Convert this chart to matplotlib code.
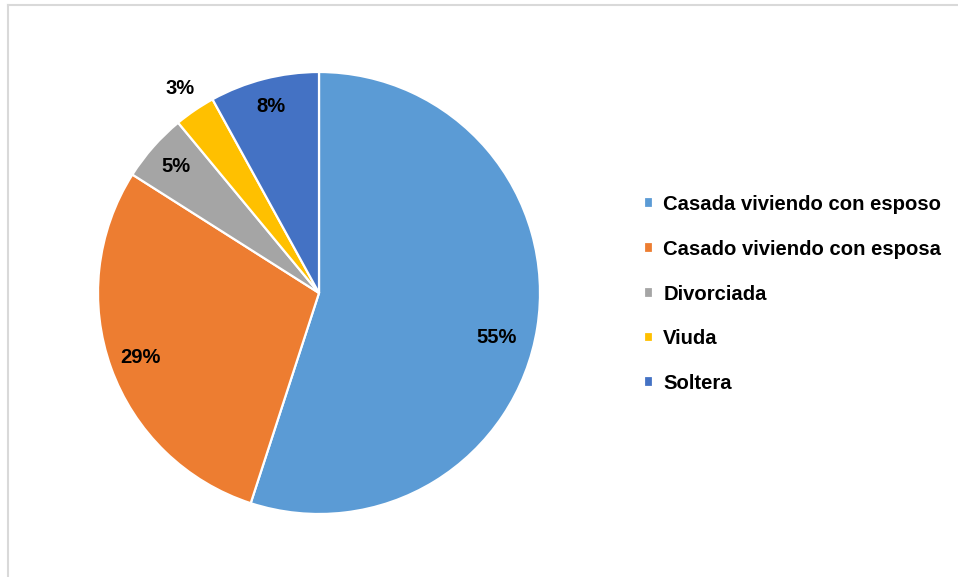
import numpy as np
import matplotlib.pyplot as plt
from matplotlib.lines import Line2D

categorias = ["Casada viviendo con esposo", "Casado viviendo con esposa",
              "Divorciada", "Viuda", "Soltera"]
porcentajes = [55, 29, 5, 3, 8]
colores = ["#5B9BD5", "#ED7D31", "#A5A5A5", "#FFC000", "#4472C4"]

# distancia radial de cada etiqueta y pequeño giro (grados)
dist_etiqueta = [0.83, 0.86, 0.865, 1.12, 0.87]
giro_etiqueta = [-5, 0, 0, 0, 0]

plt.rcParams['font.family'] = ['Liberation Sans', 'DejaVu Sans']
W, H = 958, 577
fig = plt.figure(figsize=(W / 100, H / 100), dpi=100)

# marco gris del área del gráfico
fig.add_artist(Line2D([8 / W, 8 / W], [0, 1 - 5 / H], color="#D9D9D9", lw=1.5))
fig.add_artist(Line2D([8 / W, 1], [1 - 5 / H, 1 - 5 / H], color="#D9D9D9", lw=1.5))

cx, cy, r = 319, 293, 221
ax = fig.add_axes([(cx - r) / W, (H - cy - r) / H, 2 * r / W, 2 * r / H])
wedges, _ = ax.pie(porcentajes, colors=colores, startangle=90, counterclock=False,
                   radius=1, wedgeprops=dict(edgecolor="white", linewidth=1.6))
ax.set_xlim(-1, 1)
ax.set_ylim(-1, 1)
ax.set_aspect("equal")
ax.axis("off")

for w, p, d, g in zip(wedges, porcentajes, dist_etiqueta, giro_etiqueta):
    ang = np.deg2rad((w.theta1 + w.theta2) / 2 + g)
    ax.text(d * np.cos(ang), d * np.sin(ang), f"{p}%", ha="center", va="center",
            fontsize=14.5, fontweight="bold", color="black")

fig.legend(wedges, categorias, loc="upper left", bbox_to_anchor=(644 / W, 1 - 195 / H),
           frameon=False, prop=dict(size=14.6, weight="bold"),
           handlelength=0.45, handleheight=0.45, handletextpad=0.5,
           labelspacing=1.27, borderpad=0, borderaxespad=0)

fig.savefig("out.png", dpi=100, facecolor="white")
